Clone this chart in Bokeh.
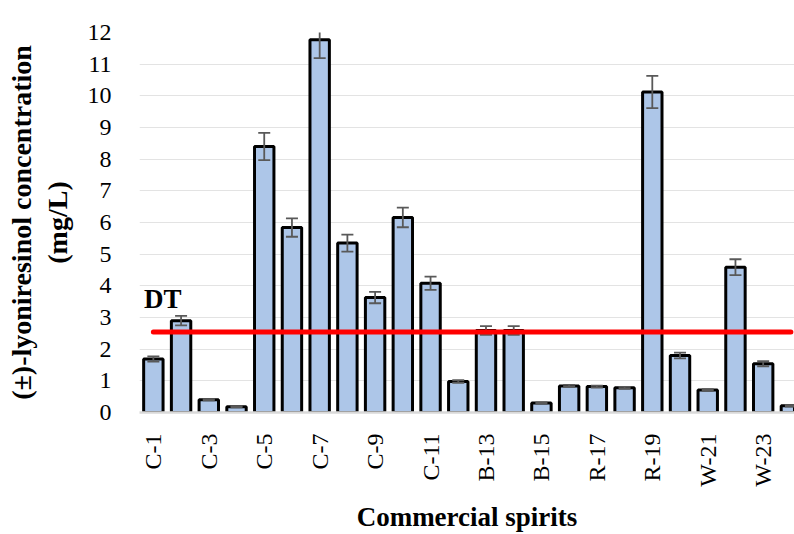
from bokeh.plotting import figure
from bokeh.models import ColumnDataSource, FixedTicker, Title, Range1d
from bokeh.embed import file_html
from bokeh.resources import INLINE

categories = ["C-1", "C-2", "C-3", "C-4", "C-5", "C-6", "C-7", "C-8", "C-9", "C-10",
              "C-11", "C-12", "B-13", "B-14", "B-15", "B-16", "R-17", "R-18", "R-19",
              "R-20", "W-21", "W-22", "W-23", "W-24"]
values = [1.69, 2.90, 0.40, 0.18, 8.40, 5.84, 11.77, 5.35, 3.63, 6.16, 4.08, 0.98,
          2.59, 2.59, 0.30, 0.84, 0.82, 0.78, 10.12, 1.80, 0.71, 4.59, 1.54, 0.21]
errors = [0.08, 0.15, 0.02, 0.02, 0.43, 0.29, 0.58, 0.27, 0.18, 0.31, 0.21, 0.04,
          0.14, 0.14, 0.02, 0.03, 0.03, 0.03, 0.51, 0.09, 0.03, 0.25, 0.08, 0.02]
tick_labels = categories[::2]
y_ticks = list(range(0, 13))
dt_value = 2.54
dt_text = "DT"

FONT = "Liberation Serif"

idx = list(range(len(categories)))
src = ColumnDataSource(dict(
    x=idx, top=values,
    upper=[v + e for v, e in zip(values, errors)],
    lower=[v - e for v, e in zip(values, errors)],
))

p = figure(width=794, height=534, output_backend="svg", toolbar_location=None,
           x_range=Range1d(-0.5, 23.13), y_range=Range1d(0, 12),
           min_border_left=139, min_border_right=0, min_border_top=32,
           min_border_bottom=122)
p.outline_line_color = None
p.background_fill_color = "white"
p.border_fill_color = "white"

# bars
p.vbar(x="x", top="top", width=0.70, source=src, fill_color="#adc6e8",
       line_color="black", line_width=3)

# error bars (glyphs, clipped by the frame)
p.segment(x0="x", x1="x", y0="lower", y1="upper", source=src,
          line_color="#595959", line_width=1.8)
p.scatter(x="x", y="upper", source=src, marker="dash", size=12,
          line_color="#595959", line_width=1.8)
p.scatter(x="x", y="lower", source=src, marker="dash", size=12,
          line_color="#595959", line_width=1.8)

# detection threshold line and label
p.segment(x0=[0], x1=[len(categories) - 1], y0=[dt_value], y1=[dt_value],
          line_color="#ff0000", line_width=5, line_cap="round")
p.text(x=[-0.34], y=[dt_value + 1.06], text=[dt_text],
       text_font={"value": FONT}, text_font_size="27px", text_font_style="bold",
       text_color="black", text_baseline="alphabetic", text_align="left")

# x axis
xa = p.xaxis[0]
xa.ticker = FixedTicker(ticks=idx[::2])
xa.major_label_overrides = {i: lab for i, lab in zip(idx[::2], tick_labels)}
xa.major_label_orientation = 3.14159265 / 2
xa.major_label_text_font = FONT
xa.major_label_text_font_size = "24px"
xa.major_label_text_color = "black"
xa.major_label_standoff = 21
xa.major_tick_out = 0
xa.major_tick_in = 0
xa.minor_tick_out = 0
xa.minor_tick_in = 0
xa.major_tick_line_color = None
xa.minor_tick_line_color = None
xa.axis_line_color = "#d9d9d9"
xa.axis_line_width = 2.5
xa.axis_label = "Commercial spirits"
xa.axis_label_text_font = FONT
xa.axis_label_text_font_size = "27px"
xa.axis_label_text_font_style = "bold"
xa.axis_label_text_color = "black"
xa.axis_label_text_line_height = 1.0
xa.axis_label_standoff = 12

# y axis
ya = p.yaxis[0]
ya.ticker = FixedTicker(ticks=y_ticks)
ya.major_label_text_font = FONT
ya.major_label_text_font_size = "24px"
ya.major_label_text_color = "black"
ya.major_label_standoff = 28
ya.major_tick_out = 0
ya.major_tick_in = 0
ya.minor_tick_out = 0
ya.minor_tick_in = 0
ya.major_tick_line_color = None
ya.minor_tick_line_color = None
ya.axis_line_color = None
ya.axis_label = "(mg/L)"
ya.axis_label_text_font = FONT
ya.axis_label_text_font_size = "28px"
ya.axis_label_text_font_style = "bold"
ya.axis_label_text_color = "black"
ya.axis_label_text_line_height = 1.0
ya.axis_label_standoff = 12

p.add_layout(Title(text="(±)-lyoniresinol concentration", align="center",
                   text_font=FONT, text_font_size="28px", text_font_style="bold",
                   text_color="black", text_line_height=1.0, standoff=4), "left")

p.xgrid.grid_line_color = None
p.ygrid.grid_line_color = "#e3e3e3"
p.ygrid.grid_line_width = 1.2

open("out.html", "w").write(file_html(p, INLINE))
